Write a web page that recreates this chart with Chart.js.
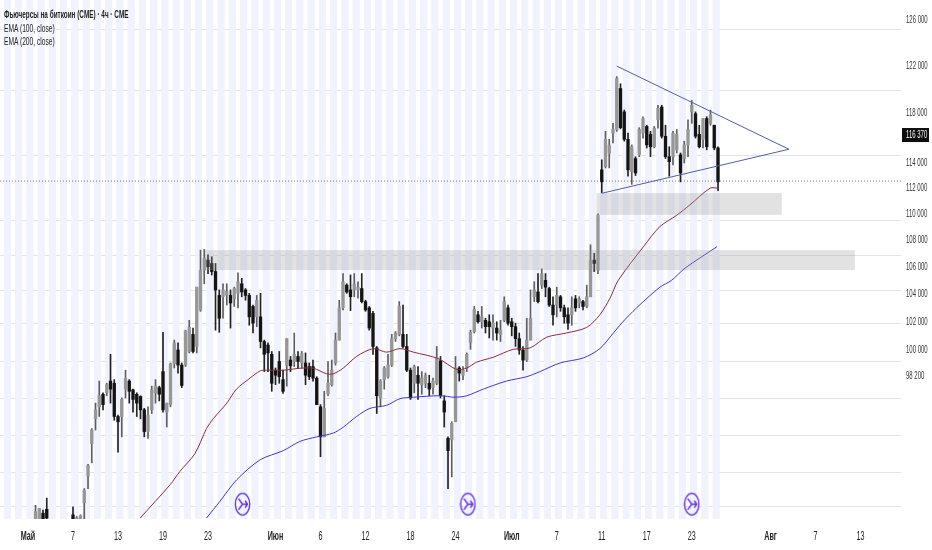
<!DOCTYPE html>
<html>
<head>
<meta charset="utf-8">
<title>Фьючерсы на биткоин</title>
<script src="https://cdn.jsdelivr.net/npm/chart.js@4/dist/chart.umd.min.js"></script>
<style>
  html, body { margin: 0; padding: 0; background: #fff; }
  #wrap { position: relative; width: 932px; height: 550px; overflow: hidden; }
  canvas { position: absolute; left: 0; top: 0; }
  .legend { position: absolute; left: 4px; font: 11.5px "Liberation Sans", sans-serif; color: #222; white-space: nowrap; transform: scaleX(0.58); transform-origin: left center; }
</style>
</head>
<body>
<div id="wrap">
  <canvas id="wykres" width="932" height="550"></canvas>
  <div class="legend" style="top:8px;font-weight:bold;transform:scaleX(0.555)">Фьючерсы на биткоин (CME) · 4ч · CME</div>
  <div class="legend" style="top:22px">EMA (100, close)</div>
  <div class="legend" style="top:35px">EMA (200, close)</div>
</div>
<script>
// x axis is bar number, prices are in thousands of USD
const firstBar = 2;
const opens = [
  88.8,88.8,89.2,89.45,88.6,88.6,88.5,88.6,88.5,88.6,
  89.1,88.6,88.7,89.85,91.55,93.65,95.3,96.1,96.95,97.05,
  97.85,97.7,95.45,95.45,97.3,97.85,97.25,96.95,96.8,95.9,
  94.45,95.9,97.05,97.4,98.5,95.75,96.25,99.05,100.0,98.95,
  98.95,99.9,101.1,100.25,102.85,105.75,106.5,106.25,105.65,103.9,
  103.8,103.9,103.9,103.65,104.05,104.75,104.3,103.9,103.1,102.35,
  102.35,100.6,100.35,99.7,98.6,99.2,97.95,98.95,99.3,99.2,
  99.55,99.1,99.1,98.85,98.85,98.05,96.1,94.1,96.95,97.6,
  99.1,100.7,103.0,104.65,104.3,104.3,104.3,104.4,103.45,103.0,
  102.6,100.15,96.7,97.95,98.15,98.95,100.8,101.1,101.1,100.25,
  98.6,97.7,98.25,97.6,97.7,97.7,97.4,97.7,99.25,96.5,
  94.0,93.9,95.1,98.75,98.25,98.75,100.5,101.3,102.5,102.0,
  102.1,102.0,101.55,101.55,101.1,102.1,103.0,102.0,101.65,100.8,
  100.0,99.3,100.7,103.8,104.15,104.65,105.0,104.4,103.2,103.2,
  103.8,103.0,102.5,102.5,103.65,103.35,103.45,103.1,103.8,106.5,
  105.75,113.45,113.7,114.75,116.4,116.7,120.1,118.15,115.9,113.3,
  114.35,114.65,116.4,116.95,116.3,115.3,117.5,118.55,116.15,114.5,
  114.5,115.05,114.65,114.35,115.45,118.15,118.0,116.3,115.9,117.6,
  117.2,117.05,115.2
];
const closes = [
  89.3,89.5,88.8,88.9,88.5,88.5,88.6,88.5,88.6,88.5,
  88.8,88.9,89.05,90.65,92.25,94.55,95.9,96.85,96.25,97.6,
  97.3,95.45,95.1,96.6,98.05,97.15,96.6,96.35,95.9,94.45,
  95.55,97.25,97.5,96.95,95.9,96.35,99.05,100.5,98.95,97.55,
  101.35,101.6,99.9,104.5,105.75,106.65,106.0,105.65,104.3,102.25,
  104.3,104.2,103.35,104.4,104.9,104.15,103.9,102.35,101.9,103.55,
  100.6,99.7,99.8,97.7,98.25,98.15,97.15,100.8,98.9,99.7,
  99.2,99.75,98.25,98.15,98.05,96.25,94.1,96.0,97.7,98.6,
  100.7,103.0,104.9,104.15,103.8,104.75,104.5,103.45,102.85,101.55,
  100.25,96.85,97.85,98.75,98.95,100.8,101.2,103.1,100.25,98.6,
  96.7,98.85,97.7,98.05,98.25,97.3,97.85,99.45,96.85,95.75,
  93.2,95.0,98.75,98.4,98.6,99.7,101.25,102.9,102.0,102.35,
  101.65,101.65,101.9,101.2,101.4,103.45,101.9,101.65,100.8,100.0,
  99.3,100.7,102.25,104.3,103.45,105.5,104.5,103.2,102.5,103.9,
  103.0,102.35,101.9,103.0,103.0,103.65,103.1,103.8,106.5,106.25,
  109.9,112.5,115.9,115.45,116.7,120.95,116.85,115.9,113.45,115.3,
  113.2,116.7,117.6,115.45,115.3,116.8,118.45,116.15,114.5,114.1,
  116.4,116.3,113.2,115.45,116.7,118.7,116.15,115.3,117.6,115.3,
  117.9,115.2,112.5
];
const highs = [
  89.7,89.5,89.4,90.15,88.7,88.7,88.7,88.7,88.7,88.7,
  89.6,89.0,89.1,90.75,92.3,94.65,96.35,97.85,97.05,97.7,
  99.7,97.95,95.55,96.7,98.6,97.95,97.3,97.05,96.85,96.0,
  96.1,97.5,97.95,97.5,101.25,96.35,99.1,100.7,100.5,99.1,
  101.4,102.1,101.55,104.5,107.25,107.3,106.9,106.75,106.25,104.3,
  104.75,104.75,104.3,104.5,105.55,105.15,104.4,104.05,103.2,103.9,
  104.05,100.7,100.5,99.9,98.75,99.9,98.6,100.8,99.55,101.2,
  99.9,99.9,99.8,99.1,99.3,98.15,96.25,97.15,99.2,99.3,
  101.2,103.55,105.5,104.75,105.4,105.5,104.9,105.5,103.55,103.1,
  102.75,100.25,97.95,98.85,99.7,101.1,101.3,103.45,103.2,101.1,
  98.75,98.95,98.85,98.5,98.4,98.25,98.05,100.25,99.55,96.85,
  94.1,95.1,99.55,98.85,98.85,99.8,101.4,103.1,102.75,103.1,
  102.25,102.5,102.5,102.0,102.1,103.8,103.2,102.25,101.9,101.2,
  100.25,102.25,104.3,104.9,105.5,105.85,105.5,104.5,103.8,104.5,
  103.9,103.2,103.0,103.8,103.9,103.8,103.55,104.65,107.65,107.0,
  110.0,114.25,116.55,115.9,117.2,121.1,120.5,118.3,116.4,115.45,
  114.5,116.85,117.75,117.05,116.55,116.95,118.7,118.7,117.05,115.3,
  116.55,116.7,114.8,115.75,117.5,119.1,118.15,117.05,117.6,117.75,
  118.3,117.05,115.3
];
const lows = [
  88.4,88.4,88.4,88.4,88.3,88.3,88.3,88.3,88.3,88.3,
  88.4,88.4,88.4,88.8,90.75,92.4,94.55,95.45,95.9,96.85,
  96.35,95.2,93.1,94.1,96.7,96.35,95.75,95.45,95.3,94.1,
  94.0,95.65,96.35,96.5,95.75,94.75,96.1,98.75,98.4,97.4,
  98.85,99.8,99.8,99.8,102.75,104.75,105.5,105.4,101.4,101.25,
  102.25,103.2,101.55,103.1,103.0,103.8,103.55,101.75,101.2,101.65,
  100.15,98.5,98.5,97.15,97.6,97.7,97.0,97.5,98.5,98.85,
  98.75,98.75,97.6,97.95,97.85,96.25,92.8,94.1,96.85,97.5,
  98.95,100.7,102.85,104.05,102.8,103.8,103.7,103.35,102.75,101.4,
  99.7,95.65,96.1,97.3,98.05,98.85,100.6,101.0,100.15,98.5,
  96.6,97.05,96.6,96.95,97.4,96.85,96.95,97.6,96.7,94.75,
  90.75,91.5,95.1,97.85,97.95,98.5,100.05,101.2,101.9,101.55,
  101.2,100.85,100.7,100.7,100.6,102.0,101.75,101.0,100.25,99.7,
  98.6,99.2,100.7,103.45,103.35,104.4,103.8,103.1,101.75,102.35,
  102.75,101.9,101.45,101.75,102.75,103.0,102.85,103.0,103.8,105.65,
  105.5,111.65,113.6,113.6,115.6,116.55,116.75,115.75,112.95,112.3,
  113.0,114.5,116.0,115.2,114.5,115.2,116.8,116.0,114.35,112.95,
  113.85,114.8,112.5,114.0,114.5,117.2,116.0,115.2,115.2,115.05,
  117.05,115.05,111.8
];

const ema100X = [29.9,37.9,40.5,44.5,47.6,49.4,53,55.6,59.2,61.9,63.6,68.1,72.5,76.1,79.6,81.4,84.1,87.6,92.1,95.6,99.2,102.8,109.4,114.3,117,119.6,124.1,129.4,133.9,138.3,143.6,149,152.5,155.2,157.4,164.1,168.5,173,176.5,181.9,184.1];
const ema100 = [88.9,91.0,91.85,93.0,94.65,95.3,96.35,97.3,98.05,98.55,98.6,98.6,98.73,98.73,98.35,98.35,98.75,99.55,100.1,99.85,100.1,99.85,99.4,98.65,98.75,99.15,99.5,100.05,100.15,100.9,101.2,101.6,102.5,103.7,105.0,107.5,109.03,109.9,110.7,112.0,112.0];
const ema200X = [47.6,51.2,55.6,61.9,68.1,72.5,77,81.4,84.1,87.6,91.2,95.6,99.2,102.8,109.9,113.9,117,121.4,127.6,133,136.5,141.9,148.1,152.5,156.1,158.3,162.3,168.5,171.6,175.2,183.7];
const ema200 = [88.9,89.95,91.3,92.6,93.2,93.8,94.1,94.35,94.75,95.45,96.0,96.2,96.65,96.75,96.85,96.75,96.85,97.3,97.85,98.15,98.5,99.1,99.45,100.1,101.2,101.9,103.0,104.5,105.0,105.9,107.5];

const triangleX = [157, 202.9, 153];
const triangleP = [122.0, 115.1, 111.6];
const zoneX = [[151.6, 201], [47.2, 220.5]];
const zoneP = [[109.93, 111.62], [105.76, 107.25]];
const markerX = [57.2, 117.3, 177];
const markerP = 89.77;
const lastPrice = 112.56;
const priceTag = 116.25;
const priceTagText = '116 370';

const stripeX = [
  -5.5,-2.5,0.5,3.5,6.5,9.5,12.5,15.5,18.5,21.5,24.5,27.5,30.5,33.5,36.5,39.5,
  42.5,45.5,48.5,51.5,54.5,57.5,60.5,63.5,66.5,69.5,72.5,75.5,78.5,81.5,84.5,87.5,
  90.5,93.5,96.5,99.5,102.5,105.5,108.5,111.5,114.5,117.5,120.5,123.5,126.5,129.5,132.5,135.5,
  138.5,141.5,144.5,147.5,150.5,153.5,156.5,159.5,162.5,165.5,168.5,171.5,174.5,177.5,180.5,183.5
];

const xTickPos = [0,12,24,36,48,66,78,90,102,114,129,141,153,165,177,198,210,222];
const xTickLabels = ['Май','7','13','19','23','Июн','6','12','18','24','Июл','7','11','17','23','Авг','7','13'];
const yTickPos = [98.2,100,102,104,106,108,110,112,114,118,122,126];
const yTickLabels = ['98 200','100 000','102 000','104 000','106 000','108 000','110 000','112 000','114 000','118 000','122 000','126 000'];
const gridPos = [89.59,91.75,94.22,96.69,99.23,101.84,104.29,106.88,109.53,114.63,119.97,125.2];

const yMin = 88.84, yMax = 127.78, xMin = -7.47, xMax = 232.8;
const labelFont = '"Liberation Sans", sans-serif';
const textSqueeze = 0.6;

const barX = opens.map((_, i) => firstBar + i);
const pairs = (xs, ys) => xs.map((x, i) => ({ x: x, y: ys[i] }));

// purple round marker with an arrow, used as a point image
function markerImage() {
  const c = document.createElement('canvas');
  c.width = 17; c.height = 25;
  const g = c.getContext('2d');
  g.strokeStyle = '#5b2be0';
  g.lineWidth = 1.3;
  g.beginPath();
  g.ellipse(8.5, 12.5, 7.2, 10.8, 0, 0, Math.PI * 2);
  g.stroke();
  g.beginPath();
  g.moveTo(4.5, 7); g.lineTo(8.5, 12.5); g.lineTo(4.5, 18);
  g.moveTo(8.5, 12.5); g.lineTo(13.5, 12.5);
  g.moveTo(11, 9); g.lineTo(13.5, 12.5); g.lineTo(11, 16);
  g.stroke();
  return c;
}

const extras = {
  id: 'extras',
  afterDatasetsDraw(chart) {
    const { ctx, scales, chartArea } = chart;
    ctx.save();
    ctx.fillStyle = 'rgba(150,150,155,0.28)';
    zoneX.forEach((xs, i) => {
      const left = scales.x.getPixelForValue(xs[0]);
      const right = scales.x.getPixelForValue(xs[1]);
      const top = scales.y.getPixelForValue(zoneP[i][1]);
      const bottom = scales.y.getPixelForValue(zoneP[i][0]);
      ctx.fillRect(left, top, right - left, bottom - top);
    });
    const tagY = scales.y.getPixelForValue(priceTag);
    ctx.fillStyle = '#0c0c0c';
    ctx.fillRect(chartArea.right + 1, tagY - 7, 27, 14);
    ctx.fillStyle = '#fff';
    ctx.font = '10px ' + labelFont;
    ctx.textBaseline = 'middle';
    ctx.fillText(priceTagText, chartArea.right + 5, tagY);
    ctx.restore();
  }
};

const ctx = document.getElementById('wykres').getContext('2d');

// the labels in the picture are very narrow, no such font here, so squeeze with maxWidth
const plainFillText = ctx.fillText;
ctx.fillText = function (text, x, y) {
  plainFillText.call(this, text, x, y, this.measureText(text).width * textSqueeze);
};

new Chart(ctx, {
  data: {
    datasets: [
      {
        type: 'bar', label: 'stripes', order: 10, grouped: false,
        data: stripeX.map(x => ({ x: x, y: [yMin, yMax] })),
        backgroundColor: '#f0f3fe', barThickness: 6.5
      },
      {
        type: 'bar', label: 'wicks', order: 5, grouped: false,
        data: barX.map((x, i) => ({ x: x, y: [lows[i], highs[i]] })),
        backgroundColor: closes.map((c, i) => c >= opens[i] ? '#5e5e5e' : '#222'),
        barThickness: 1
      },
      {
        type: 'bar', label: 'bodies', order: 4, grouped: false,
        data: barX.map((x, i) => ({ x: x, y: [opens[i], closes[i]] })),
        backgroundColor: closes.map((c, i) => c >= opens[i] ? '#979797' : '#141414'),
        barThickness: 2.7, minBarLength: 1
      },
      {
        type: 'line', label: 'EMA (100, close)', order: 2, data: pairs(ema100X, ema100),
        borderColor: '#8c2d3c', borderWidth: 1, pointRadius: 0, tension: 0.3
      },
      {
        type: 'line', label: 'EMA (200, close)', order: 2, data: pairs(ema200X, ema200),
        borderColor: '#4238c8', borderWidth: 1, pointRadius: 0, tension: 0.3
      },
      {
        type: 'line', label: 'last', order: 3,
        data: pairs([xMin, xMax], [lastPrice, lastPrice]),
        borderColor: '#555', borderWidth: 0.8, borderDash: [1, 2], pointRadius: 0
      },
      {
        type: 'line', label: 'triangle', order: 1, data: pairs(triangleX, triangleP),
        borderColor: '#4f5fa8', borderWidth: 1, pointRadius: 0
      },
      {
        type: 'line', label: 'markers', order: 1, showLine: false,
        data: markerX.map(x => ({ x: x, y: markerP })),
        pointStyle: markerImage(), pointRadius: 8
      }
    ]
  },
  options: {
    responsive: false,
    animation: false,
    layout: { padding: 0, autoPadding: false },
    plugins: { legend: { display: false }, tooltip: { enabled: false }, title: { display: false } },
    scales: {
      x: {
        type: 'linear', min: xMin, max: xMax, offset: false,
        grid: { display: false, drawTicks: false }, border: { display: false },
        afterBuildTicks: s => { s.ticks = xTickPos.map(v => ({ value: v })); },
        afterFit: s => { s.height = 31; s.paddingLeft = 0; s.paddingRight = 0; },
        ticks: {
          autoSkip: false, maxRotation: 0, padding: 10, color: '#222',
          callback: (v, i) => xTickLabels[i],
          font: c => ({ family: labelFont, size: 12, weight: isNaN(+xTickLabels[c.index]) ? 'bold' : 'normal' })
        }
      },
      y: {
        type: 'logarithmic', position: 'right', min: yMin, max: yMax,
        grid: { display: false, drawTicks: false }, border: { display: false },
        afterBuildTicks: s => { s.ticks = yTickPos.map(v => ({ value: v })); },
        // ticks.padding otherwise pushes the plot 11px down from the top
        afterFit: s => { s.width = 31; s.paddingTop = 0; s.paddingBottom = 0; },
        ticks: {
          autoSkip: false, padding: 5, color: '#333',
          callback: (v, i) => yTickLabels[i],
          font: { family: labelFont, size: 10 }
        }
      },
      yGrid: {
        type: 'logarithmic', position: 'right', min: yMin, max: yMax,
        border: { display: false },
        grid: { color: '#e2e4ea', lineWidth: 1, drawTicks: false },
        afterBuildTicks: s => { s.ticks = gridPos.map(v => ({ value: v })); },
        afterFit: s => { s.width = 0; s.paddingTop = 0; s.paddingBottom = 0; },
        ticks: { display: false }
      }
    }
  },
  plugins: [extras]
});
</script>
</body>
</html>
